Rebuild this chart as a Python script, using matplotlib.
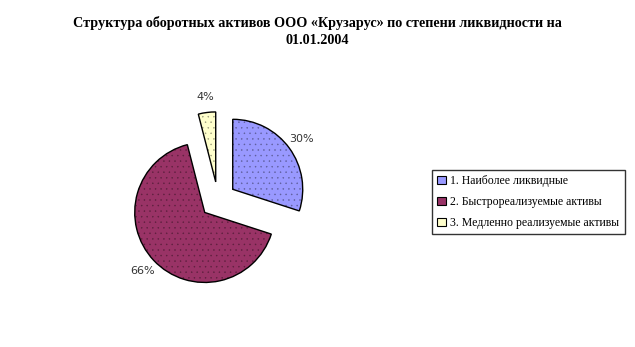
import matplotlib
matplotlib.use("Agg")
import matplotlib.pyplot as plt
from matplotlib.patches import Patch, Wedge
import matplotlib.colors as mcolors

categories = ["1. Наиболее ликвидные", "2. Быстрореализуемые активы", "3. Медленно реализуемые активы"]
values = [30, 66, 4]
colors = ["#9999FF", "#993366", "#FFFFCC"]
title = "Структура оборотных активов ООО «Крузарус» по степени ликвидности на\n01.01.2004"

plt.rcParams['font.family'] = ['Liberation Serif', 'DejaVu Serif']
plt.rcParams['hatch.linewidth'] = 0.3

W, H = 635, 347
fig = plt.figure(figsize=(W / 100, H / 100), dpi=100)
fig.patch.set_facecolor("white")

# pie axes: center at (218, 200) px, radius 70 px
cx, cy, r = 218, 200, 70
half = 1.6
side = 2 * half * r
ax = fig.add_axes([(cx - side / 2) / W, (H - cy - side / 2) / H, side / W, side / H])

wedges, texts = ax.pie(values, colors=colors, startangle=90, counterclock=False,
                       explode=[0.26] * len(values), radius=1.0,
                       labels=[f"{v}%" for v in values], labeldistance=1.22,
                       wedgeprops=dict(linewidth=0),
                       textprops=dict(fontsize=8, color="#333333"))
for w, c in zip(wedges, colors):
    rgb = mcolors.to_rgb(c)
    dot = tuple(0.6 * v for v in rgb)
    w.set_edgecolor(dot)
    w.set_hatch("...")
    w.set_linewidth(0)
    outline = Wedge(w.center, w.r, w.theta1, w.theta2, facecolor="none",
                    edgecolor="black", linewidth=1.0)
    ax.add_patch(outline)
ax.set_xlim(-half, half)
ax.set_ylim(-half, half)
ax.set_aspect("equal")
ax.axis("off")
for t in texts:
    t.set_ha("center")
    t.set_va("center")
    t.set_family(["DejaVu Sans"])

fig.text(0.5, 1 - 32 / H, title, ha="center", va="center", fontsize=10.2,
         fontweight="bold", linespacing=1.4)

handles = [Patch(facecolor=c, edgecolor="black", linewidth=0.8) for c in colors]
leg = fig.legend(handles, categories, loc="center left",
                 bbox_to_anchor=(432 / W, 1 - 202 / H), frameon=True,
                 fancybox=False, fontsize=8.5, handlelength=0.7, handleheight=0.7,
                 handletextpad=0.4, labelspacing=0.75, borderpad=0.45,
                 borderaxespad=0)
leg.get_frame().set_edgecolor("black")
leg.get_frame().set_linewidth(1.0)

fig.savefig("out.png", dpi=100, facecolor="white")
